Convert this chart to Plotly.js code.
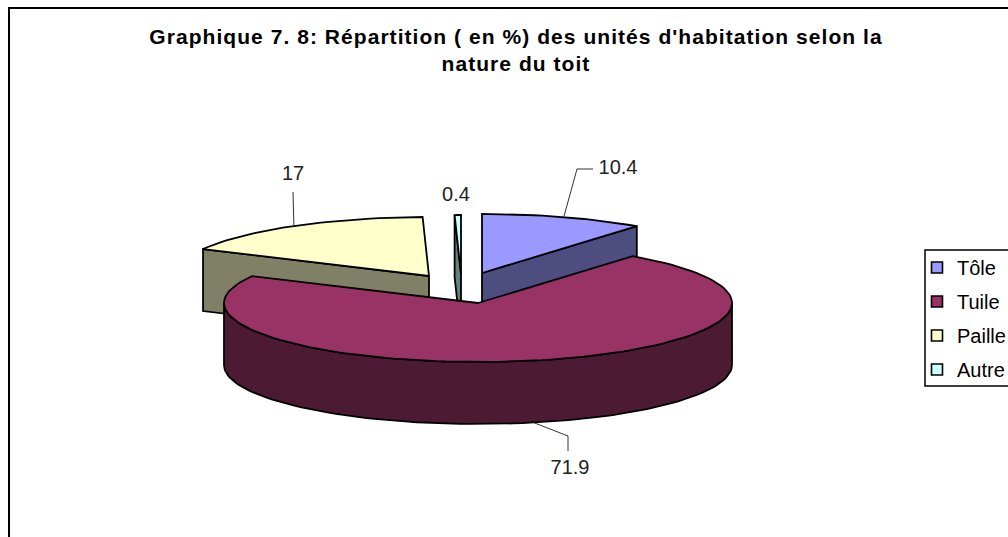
<!DOCTYPE html>
<html><head><meta charset="utf-8">
<script src="https://cdn.plot.ly/plotly-3.0.1.min.js"></script>
<style>html,body{margin:0;padding:0;background:#fff;overflow:hidden;width:1008px;height:537px}#c{width:1060px;height:537px}
.gtitle{letter-spacing:1.05px}</style>
</head><body><div id="c"></div><script>
const categories = ['Tôle','Tuile','Paille','Autre'];
const values = [10.4,71.9,17,0.4];
const valueLabels = ['10.4','71.9','17','0.4'];
const topColors = ['#9999FF','#993366','#FFFFCC','#CCFFFF'];
const sideColors = ['#4D4D80','#4D1A33','#808066','#668080'];
const titleText = "Graphique 7. 8: Répartition ( en %) des unités d'habitation selon la<br>nature du toit";

// pie projection (pixels of the axes; the figure runs past the window's right edge, as the frame does)
const FIG_W = 1060;
const RX = 254, RY = 59, DEPTH = 62;
const apexes = [[482,273],[478,303],[429,276],[461,274]];
const labelPos = [[618,169],[570,469],[293,175],[456,196]];
const leaderBends = [[[577,169],[593,169]],[[568,436],[568,451]],[[293,192]],null];
const FONT = 'Liberation Sans, Arial, sans-serif';

const total = values.reduce((a,b)=>a+b,0);
let acc = 0;
const slices = values.map((v,i)=>{const a0=acc/total*2*Math.PI; acc+=v; const a1=acc/total*2*Math.PI; return {i,a0,a1};});
const pt = (i,a,dz=0)=>[apexes[i][0]+RX*Math.sin(a), apexes[i][1]-RY*Math.cos(a)+dz];
function arc(i,a0,a1,dz=0){const n=Math.max(2,Math.ceil((a1-a0)/(Math.PI/90)));const o=[];for(let k=0;k<=n;k++)o.push(pt(i,a0+(a1-a0)*k/n,dz));return o;}
function poly(pts,color,extra){return Object.assign({type:'scatter',mode:'lines',x:pts.map(p=>p[0]),y:pts.map(p=>p[1]),fill:'toself',fillcolor:color,line:{color:'#000',width:1.8},hoverinfo:'skip',showlegend:false},extra||{});}
function ln(pts){return {type:'scatter',mode:'lines',x:pts.map(p=>p[0]),y:pts.map(p=>p[1]),line:{color:'#333',width:1},hoverinfo:'skip',showlegend:false};}

const traces=[];
[0,2,3,1].forEach(i=>{
  const s=slices[i], ap=apexes[i], c=sideColors[i];
  const low=[ap[0],ap[1]+DEPTH];
  if(i===0){traces.push(poly([ap,pt(i,s.a1),pt(i,s.a1,DEPTH),low,ap],c));}
  if(i===2||i===3){traces.push(poly([ap,pt(i,s.a0),pt(i,s.a0,DEPTH),low,ap],c));}
  if(i===1){const a=arc(i,Math.PI/2,3*Math.PI/2);const b=arc(i,Math.PI/2,3*Math.PI/2,DEPTH).reverse();traces.push(poly(a.concat(b,[a[0]]),c));}
  traces.push(poly([ap].concat(arc(i,s.a0,s.a1),[ap]),topColors[i]));
});
slices.forEach(s=>{
  const b=leaderBends[s.i]; if(!b) return;
  const m=(s.a0+s.a1)/2; const dz=Math.cos(m)<0?DEPTH:0;
  traces.push(ln([pt(s.i,m,dz)].concat(b)));
});
traces.push({type:'scatter',mode:'text',x:labelPos.map(p=>p[0]),y:labelPos.map(p=>p[1]),text:valueLabels,textposition:'middle center',textfont:{family:FONT,size:20,color:'#222'},hoverinfo:'skip',showlegend:false});
categories.forEach((c,i)=>traces.push({type:'scatter',mode:'markers',x:[null],y:[null],name:c,legendgroup:c,marker:{symbol:'square',size:11,color:topColors[i],line:{color:'#000',width:1.6}}}));

Plotly.newPlot('c',traces,{
  width:FIG_W,height:537,margin:{l:0,r:0,t:0,b:0},paper_bgcolor:'#fff',plot_bgcolor:'#fff',
  xaxis:{range:[0,FIG_W],visible:false,fixedrange:true},
  yaxis:{range:[537,0],visible:false,fixedrange:true},
  title:{text:titleText,font:{family:FONT,size:21,color:'#000',weight:700},x:516/FIG_W,xanchor:'center',xref:'paper',y:1-44/537,yanchor:'top',yref:'container'},
  legend:{x:917/FIG_W,xanchor:'left',y:1-248/537,yanchor:'top',borderwidth:0,bgcolor:'rgba(0,0,0,0)',font:{family:FONT,size:20,color:'#000'},traceorder:'grouped',tracegroupgap:5,itemclick:false,itemdoubleclick:false},
  showlegend:true,
  shapes:[
    {type:'rect',xref:'x',yref:'y',x0:9,y0:8,x1:FIG_W+20,y1:560,line:{color:'#000',width:2},layer:'below'},
    {type:'rect',xref:'x',yref:'y',x0:925,y0:250,x1:FIG_W+20,y1:386,line:{color:'#000',width:1.5},fillcolor:'#fff',layer:'below'}
  ]
},{displayModeBar:false,staticPlot:true});
</script></body></html>
